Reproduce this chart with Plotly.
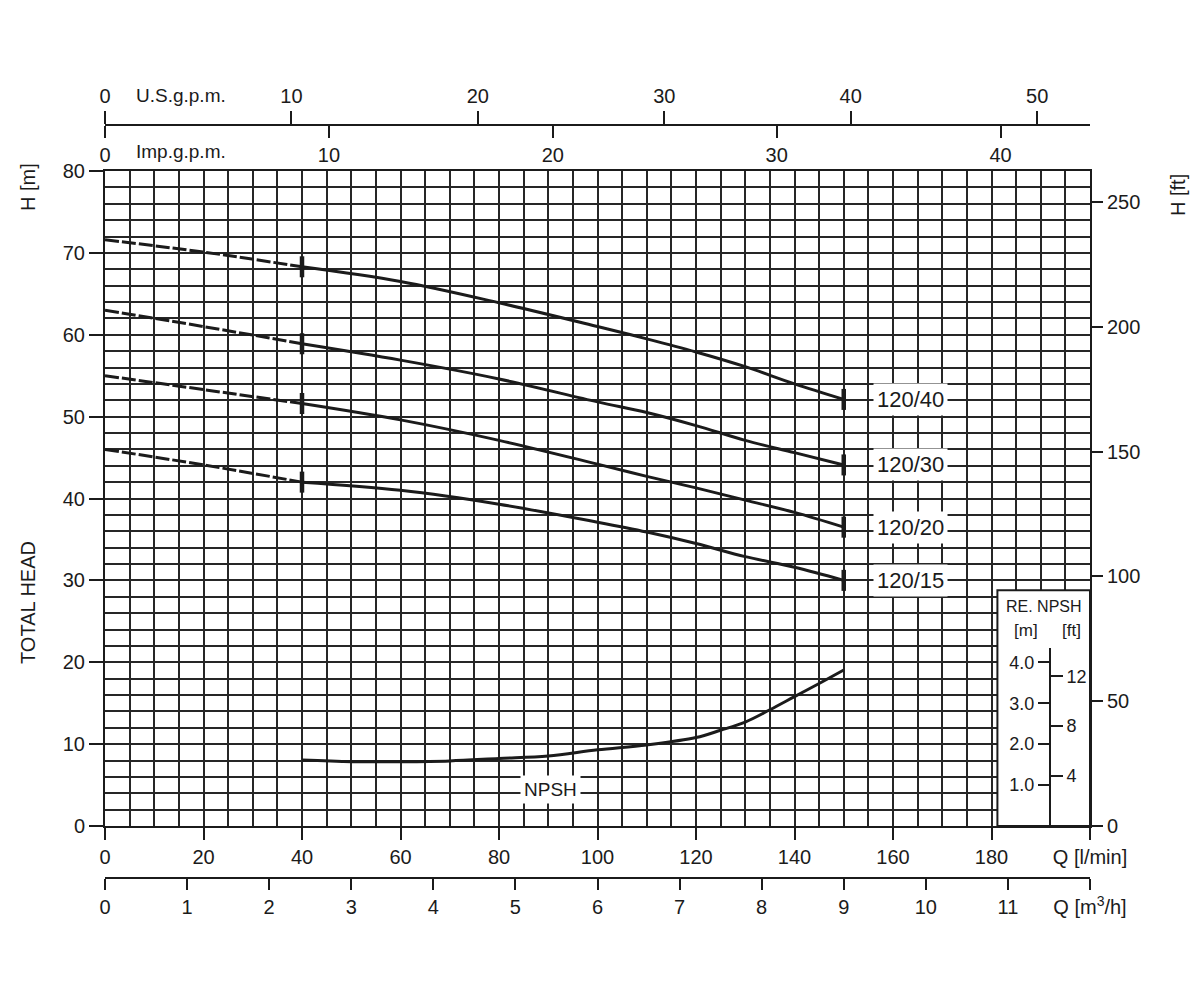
import plotly.graph_objects as go

# ---------------- data ----------------
Q_PUMP = [0, 20, 40, 60, 80, 100, 110, 120, 130, 140, 150]          # l/min
H_120_40 = [71.6, 70.1, 68.3, 66.5, 63.9, 61.0, 59.5, 57.9, 56.1, 54.0, 52.1]
H_120_30 = [63.0, 61.0, 58.9, 56.9, 54.6, 51.8, 50.5, 48.9, 47.1, 45.6, 44.1]
H_120_20 = [55.0, 53.3, 51.6, 49.6, 47.1, 44.2, 42.7, 41.3, 39.8, 38.3, 36.5]
H_120_15 = [46.0, 44.1, 42.0, 41.0, 39.3, 37.1, 35.9, 34.5, 32.9, 31.6, 30.0]
CURVE_NAMES = ["120/40", "120/30", "120/20", "120/15"]
Q_DASH_END = 40                                                       # dashed part ends here

Q_NPSH = [40, 50, 60, 70, 80, 90, 100, 110, 120, 125, 130, 135, 140, 145, 150]
NPSH_M = [1.61, 1.57, 1.57, 1.59, 1.65, 1.71, 1.86, 1.98, 2.16, 2.34, 2.54, 2.84, 3.16, 3.48, 3.81]

Q_LMIN_TICKS = [0, 20, 40, 60, 80, 100, 120, 140, 160, 180, 200]
Q_LMIN_TEXT = ["0", "20", "40", "60", "80", "100", "120", "140", "160", "180", "Q [l/min]"]
Q_M3H_TICKS = [0, 1, 2, 3, 4, 5, 6, 7, 8, 9, 10, 11, 12]
Q_M3H_TEXT = ["0", "1", "2", "3", "4", "5", "6", "7", "8", "9", "10", "11", "Q [m<sup>3</sup>/h]"]
USGPM_TICKS = [0, 10, 20, 30, 40, 50]
IMPGPM_TICKS = [0, 10, 20, 30, 40]
H_M_TICKS = [0, 10, 20, 30, 40, 50, 60, 70, 80]
H_FT_TICKS = [0, 50, 100, 150, 200, 250]
NPSH_M_TICKS = [1, 2, 3, 4]
NPSH_M_TEXT = ["1.0", "2.0", "3.0", "4.0"]
NPSH_FT_TICKS = [4, 8, 12]

# unit conversions / scale constants
Q_MAX = 200.0
H_MAX = 80.0
L_PER_USGAL = 3.78541
L_PER_IMPGAL = 4.54609
FT_PER_M = 3.28084
NPSH_TO_H = 5.0          # 1 m NPSH is drawn over 5 m of the head grid
NPSH_SCALE_TOP = 4.35    # top of the NPSH scale bar (m NPSH)

# ---------------- geometry ----------------
W, HGT = 1200, 1000
ML, MR, MT, MB = 105, 110, 60, 60


def px_x(x):
    return (x - ML) / (W - ML - MR)


def px_y(y):
    return (HGT - MB - y) / (HGT - MT - MB)


MAIN_DOM = [px_y(826), px_y(171)]

INK = "#1b1b1b"
GRID = "#262626"
NUM_FONT = dict(family="Liberation Sans, Arial, sans-serif", size=20, color=INK)
TXT_FONT = dict(family="Liberation Sans, Arial, sans-serif", size=20, color=INK)

fig = go.Figure()

curves = [H_120_40, H_120_30, H_120_20, H_120_15]
i_end = Q_PUMP.index(Q_DASH_END)
for name, hv in zip(CURVE_NAMES, curves):
    fig.add_trace(go.Scatter(x=Q_PUMP[:i_end + 1], y=hv[:i_end + 1], mode="lines",
                             line=dict(color=INK, width=3, dash="14px,3px", shape="spline"),
                             showlegend=False, hoverinfo="skip"))
    fig.add_trace(go.Scatter(x=Q_PUMP[i_end:], y=hv[i_end:], mode="lines",
                             line=dict(color=INK, width=3, shape="spline"),
                             showlegend=False, name=name))
    fig.add_trace(go.Scatter(x=[Q_PUMP[i_end], Q_PUMP[-1]], y=[hv[i_end], hv[-1]], mode="markers",
                             marker=dict(symbol="line-ns-open", size=15, color=INK,
                                         line=dict(color=INK, width=4.5)),
                             showlegend=False, hoverinfo="skip"))

fig.add_trace(go.Scatter(x=Q_NPSH, y=NPSH_M, mode="lines", xaxis="x", yaxis="y3",
                         line=dict(color=INK, width=3, shape="spline"), showlegend=False, name="NPSH"))

# empty traces so that every extra axis is attached to a subplot
for xa, ya in [("x3", "y"), ("x4", "y"), ("x5", "y"), ("x", "y2"), ("x", "y4")]:
    fig.add_trace(go.Scatter(x=[None], y=[None], xaxis=xa, yaxis=ya, showlegend=False,
                             mode="lines", hoverinfo="skip"))

axis_common = dict(linecolor=INK, linewidth=2, tickcolor=INK, tickwidth=2, zeroline=False,
                   tickfont=NUM_FONT, ticks="outside", fixedrange=True)
small_axis = {**axis_common, "tickfont": dict(NUM_FONT, size=18)}

fig.update_layout(
    width=W, height=HGT,
    margin=dict(l=ML, r=MR, t=MT, b=MB, pad=0),
    paper_bgcolor="white", plot_bgcolor="rgba(0,0,0,0)",
    showlegend=False,
    xaxis=dict(range=[0, Q_MAX], domain=[0, 1], anchor="y", tickmode="array",
               tickvals=Q_LMIN_TICKS, ticktext=Q_LMIN_TEXT, ticklen=12,
               showgrid=True, gridcolor=GRID, gridwidth=2, showline=True, mirror=True,
               minor=dict(tickmode="linear", tick0=0, dtick=5, showgrid=True,
                          gridcolor=GRID, gridwidth=2, ticks=""),
               **axis_common),
    yaxis=dict(range=[0, H_MAX], domain=MAIN_DOM, anchor="x", tickmode="array",
               tickvals=H_M_TICKS, ticklen=14,
               showgrid=True, gridcolor=GRID, gridwidth=2, showline=True, mirror=True,
               minor=dict(tickmode="linear", tick0=0, dtick=2, showgrid=True,
                          gridcolor=GRID, gridwidth=2, ticks=""),
               **axis_common),
    yaxis2=dict(range=[0, H_MAX * FT_PER_M], overlaying="y", side="right", anchor="x",
                tickmode="array", tickvals=H_FT_TICKS, ticklen=12, showgrid=False, showline=False,
                **axis_common),
    xaxis3=dict(range=[0, Q_MAX / L_PER_USGAL], overlaying="x", side="top", anchor="free",
                position=px_y(125), tickmode="array", tickvals=USGPM_TICKS, ticklen=13,
                showgrid=False, showline=True, **axis_common),
    xaxis4=dict(range=[0, Q_MAX / L_PER_IMPGAL], overlaying="x", side="bottom", anchor="free",
                position=px_y(125), tickmode="array", tickvals=IMPGPM_TICKS, ticklen=12,
                showgrid=False, showline=False, **axis_common),
    xaxis5=dict(range=[0, Q_MAX * 60 / 1000], overlaying="x", side="bottom", anchor="free",
                position=px_y(878), tickmode="array", tickvals=Q_M3H_TICKS, ticktext=Q_M3H_TEXT,
                ticklen=11, showgrid=False, showline=True, **axis_common),
    yaxis3=dict(range=[0, H_MAX / NPSH_TO_H], overlaying="y", anchor="free", position=px_x(1050),
                side="left", tickmode="array", tickvals=NPSH_M_TICKS, ticktext=NPSH_M_TEXT,
                ticklen=12, showgrid=False, showline=False, **small_axis),
    yaxis4=dict(range=[0, H_MAX / NPSH_TO_H * FT_PER_M], overlaying="y", anchor="free",
                position=px_x(1050), side="right", tickmode="array", tickvals=NPSH_FT_TICKS,
                ticklen=12, showgrid=False, showline=False, **small_axis),
)

# NPSH inset panel (white, framed) and its scale bar
INSET_Q0 = 181.2
INSET_H1 = 28.8
fig.add_shape(type="rect", xref="x", yref="y", x0=INSET_Q0, x1=Q_MAX, y0=0, y1=INSET_H1,
              fillcolor="white", line=dict(color=INK, width=2), layer="between")
fig.add_shape(type="line", xref="paper", yref="y3", x0=px_x(1050), x1=px_x(1050),
              y0=0, y1=NPSH_SCALE_TOP, line=dict(color=INK, width=2), layer="above")

ann = []
# axis titles
ann.append(dict(text="H [m]", x=px_x(28), y=px_y(187), textangle=-90, font=TXT_FONT))
ann.append(dict(text="TOTAL HEAD", x=px_x(28), y=px_y(603), textangle=-90, font=TXT_FONT))
ann.append(dict(text="H [ft]", x=px_x(1178), y=px_y(195), textangle=-90, font=TXT_FONT))
ann.append(dict(text="U.S.g.p.m.", x=px_x(134), y=px_y(95), xanchor="left", font=dict(NUM_FONT, size=19)))
ann.append(dict(text="Imp.g.p.m.", x=px_x(134), y=px_y(152), xanchor="left", font=dict(NUM_FONT, size=19)))
# inset header
ann.append(dict(text="RE. NPSH", x=px_x(1044), y=px_y(606), font=dict(TXT_FONT, size=16)))
ann.append(dict(text="[m]", x=px_x(1026), y=px_y(630), font=dict(TXT_FONT, size=17)))
ann.append(dict(text="[ft]", x=px_x(1071), y=px_y(630), font=dict(TXT_FONT, size=17)))
for a in ann:
    a.update(xref="paper", yref="paper", showarrow=False)
    a.setdefault("xanchor", "center")
    a.setdefault("yanchor", "middle")
    fig.add_annotation(**a)

# curve labels
LABEL_Q = 163.5
for name, hv in zip(CURVE_NAMES, curves):
    fig.add_annotation(text=name, x=LABEL_Q, y=hv[-1], xref="x", yref="y", showarrow=False,
                       font=dict(TXT_FONT, size=22), bgcolor="white", borderpad=3)
fig.add_annotation(text="NPSH", x=90.5, y=4.5, xref="x", yref="y", showarrow=False,
                   font=dict(TXT_FONT, size=19), bgcolor="white", borderpad=3)

fig.write_html("out.html")
